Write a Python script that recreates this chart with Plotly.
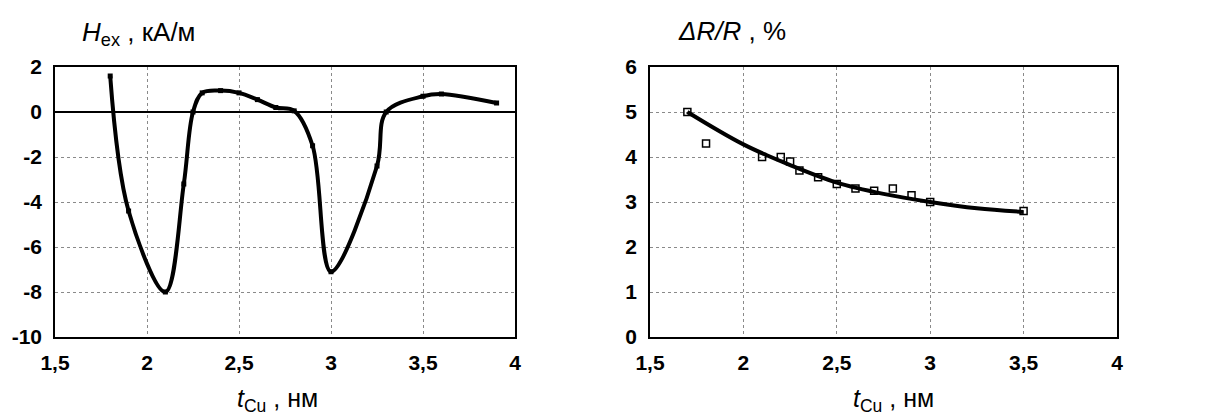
import plotly.graph_objects as go

# Left panel: exchange field vs Cu thickness
h_x = [1.8, 1.9, 2.1, 2.2, 2.25, 2.3, 2.4, 2.5, 2.6, 2.7, 2.8, 2.9, 3.0, 3.25, 3.3, 3.5, 3.6, 3.9]
h_y = [1.6, -4.4, -8.0, -3.2, 0.0, 0.85, 0.95, 0.85, 0.55, 0.2, 0.05, -1.5, -7.1, -2.4, 0.0, 0.7, 0.8, 0.4]

# Right panel: magnetoresistance, measured points and trend curve
r_x = [1.7, 1.8, 2.1, 2.2, 2.25, 2.3, 2.4, 2.5, 2.6, 2.7, 2.8, 2.9, 3.0, 3.5]
r_y = [5.0, 4.3, 4.0, 4.0, 3.9, 3.7, 3.55, 3.4, 3.3, 3.25, 3.3, 3.15, 3.0, 2.8]
trend_x = [1.7, 2.0, 2.25, 2.5, 2.75, 3.0, 3.25, 3.5]
trend_y = [5.0, 4.28, 3.82, 3.43, 3.18, 3.0, 2.86, 2.78]

x_ticks = [1.5, 2, 2.5, 3, 3.5, 4]
x_ticktext = ["1,5", "2", "2,5", "3", "3,5", "4"]
h_ticks = [2, 0, -2, -4, -6, -8, -10]
h_ticktext = ["2", "0", "-2", "-4", "-6", "-8", "-10"]
r_ticks = [0, 1, 2, 3, 4, 5, 6]
r_ticktext = ["0", "1", "2", "3", "4", "5", "6"]

FONT = "Liberation Sans, Arial, sans-serif"

fig = go.Figure()
fig.add_trace(go.Scatter(
    x=h_x, y=h_y, mode="lines+markers",
    line=dict(color="black", width=4, shape="spline", smoothing=1.0),
    marker=dict(symbol="square", size=5, color="black"),
    xaxis="x", yaxis="y", showlegend=False))
fig.add_trace(go.Scatter(
    x=trend_x, y=trend_y, mode="lines",
    line=dict(color="black", width=4, shape="spline", smoothing=1.0),
    xaxis="x2", yaxis="y2", showlegend=False))
fig.add_trace(go.Scatter(
    x=r_x, y=r_y, mode="markers",
    marker=dict(symbol="square-open", size=7, color="black", line=dict(width=1.5)),
    xaxis="x2", yaxis="y2", showlegend=False))

ydom = [81 / 418, 351 / 418]
tick_font = dict(family=FONT, size=21, color="black", weight="bold")
common_x = dict(range=[1.5, 4], tickvals=x_ticks, ticktext=x_ticktext, showgrid=True,
                gridcolor="#8a8a8a", griddash="dot", gridwidth=1, showline=True,
                mirror=True, linecolor="black", linewidth=1.5, zeroline=False, ticks="",
                ticklabelstandoff=6, automargin=False, tickfont=tick_font)
common_y = dict(showgrid=True, gridcolor="#8a8a8a", griddash="dot", gridwidth=1,
                showline=True, mirror=True, linecolor="black", linewidth=1.5,
                ticks="", ticklabelstandoff=7, automargin=False,
                tickfont=tick_font, domain=ydom)

fig.update_layout(
    width=1210, height=418,
    margin=dict(l=0, r=0, t=0, b=0),
    paper_bgcolor="white", plot_bgcolor="white",
    xaxis=dict(domain=[55 / 1210, 515 / 1210], anchor="y", **common_x),
    yaxis=dict(range=[-10, 2], tickvals=h_ticks, ticktext=h_ticktext, anchor="x",
               zeroline=True, zerolinecolor="black", zerolinewidth=1.5, **common_y),
    xaxis2=dict(domain=[650 / 1210, 1117 / 1210], anchor="y2", **common_x),
    yaxis2=dict(range=[0, 6], tickvals=r_ticks, ticktext=r_ticktext, anchor="x2",
                zeroline=False, **common_y),
    annotations=[
        dict(text="<i>H</i><sub>ex</sub> , кА/м", xref="paper", yref="paper",
             x=80 / 1210, y=1 - 33 / 418, xanchor="left", yanchor="middle",
             showarrow=False, font=dict(family=FONT, size=26, color="black")),
        dict(text="<i>ΔR/R</i> , %", xref="paper", yref="paper",
             x=676 / 1210, y=1 - 31 / 418, xanchor="left", yanchor="middle",
             showarrow=False, font=dict(family=FONT, size=26, color="black")),
        dict(text="<i>t</i><sub>Cu</sub> , нм", xref="paper", yref="paper",
             x=277 / 1210, y=1 - 400 / 418, xanchor="center", yanchor="middle",
             showarrow=False, font=dict(family=FONT, size=25, color="black")),
        dict(text="<i>t</i><sub>Cu</sub> , нм", xref="paper", yref="paper",
             x=893 / 1210, y=1 - 400 / 418, xanchor="center", yanchor="middle",
             showarrow=False, font=dict(family=FONT, size=25, color="black")),
    ],
)

fig.write_html("out.html")
